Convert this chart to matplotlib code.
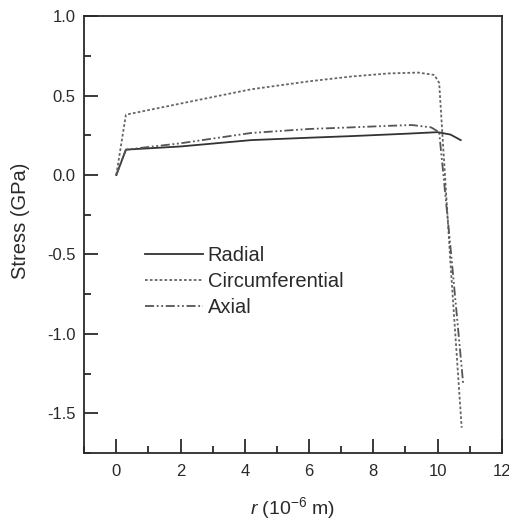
import matplotlib
matplotlib.use("Agg")
import matplotlib.pyplot as plt
from matplotlib.ticker import MultipleLocator

plt.rcParams["font.family"] = ["Liberation Sans", "DejaVu Sans"]
plt.rcParams["mathtext.fontset"] = "custom"
plt.rcParams["mathtext.rm"] = "Liberation Sans"
plt.rcParams["mathtext.it"] = "Liberation Sans:italic"

# values (r in 1e-6 m, stress in GPa)
r_radial = [0.0, 0.3, 2.0, 4.2, 6.0, 7.3, 9.0, 10.0, 10.4, 10.72]
s_radial = [0.0, 0.16, 0.18, 0.22, 0.235, 0.245, 0.26, 0.27, 0.255, 0.22]

r_circ = [0.0, 0.3, 2.0, 4.2, 6.0, 7.3, 8.5, 9.4, 9.9, 10.05, 10.4, 10.75]
s_circ = [0.0, 0.38, 0.45, 0.54, 0.59, 0.62, 0.64, 0.645, 0.63, 0.58, -0.55, -1.59]

r_axial = [0.0, 0.3, 2.0, 4.2, 6.0, 7.3, 8.5, 9.2, 9.8, 10.05, 10.4, 10.8]
s_axial = [0.0, 0.16, 0.2, 0.265, 0.29, 0.30, 0.31, 0.315, 0.30, 0.27, -0.45, -1.32]

ink = "#2a2a2a"

fig = plt.figure(figsize=(5.1, 5.22), dpi=100)
ax = fig.add_axes([0.165, 0.132, 0.819, 0.837])

ax.plot(r_radial, s_radial, color="#333333", lw=1.3, ls="-", label="Radial")
ax.plot(r_circ, s_circ, color="#666666", lw=1.3, ls=(0, (1.5, 1.2)), label="Circumferential")
ax.plot(r_axial, s_axial, color="#555555", lw=1.3, ls=(0, (5, 1.5, 1, 1.5, 1, 1.5)), label="Axial")

ax.set_xlim(-1, 12)
ax.set_ylim(-1.75, 1.0)
ax.xaxis.set_major_locator(MultipleLocator(2))
ax.xaxis.set_minor_locator(MultipleLocator(1))
ax.yaxis.set_major_locator(MultipleLocator(0.5))
ax.yaxis.set_minor_locator(MultipleLocator(0.25))
ax.set_yticks([-1.5, -1.0, -0.5, 0.0, 0.5, 1.0])
ax.set_yticklabels(["-1.5", "-1.0", "-0.5", "0.0", "0.5", "1.0"])
ax.set_xticks([0, 2, 4, 6, 8, 10, 12])

ax.tick_params(which="both", direction="in", top=False, right=False,
               colors=ink, labelsize=12, width=1.3)
ax.tick_params(which="major", length=10)
ax.tick_params(which="minor", length=5)
ax.tick_params(axis="y", which="major", pad=6)
ax.tick_params(axis="x", which="major", pad=8)
for sp in ax.spines.values():
    sp.set_linewidth(1.3)
    sp.set_color(ink)

ax.set_ylabel("Stress (GPa)", fontsize=14.5, color=ink)
ax.yaxis.set_label_coords(-0.13, 0.531)
ax.set_xlabel(r"$r$ (10$^{-6}$ m)", fontsize=14, color=ink)
ax.xaxis.set_label_coords(0.498, -0.095)

leg = ax.legend(loc="upper left", bbox_to_anchor=(0.146, 0.475), frameon=False,
                fontsize=14.5, handlelength=2.85, handletextpad=0.25,
                labelspacing=0.35, borderaxespad=0, borderpad=0)
for t in leg.get_texts():
    t.set_color(ink)

fig.savefig("out.png", dpi=100)
